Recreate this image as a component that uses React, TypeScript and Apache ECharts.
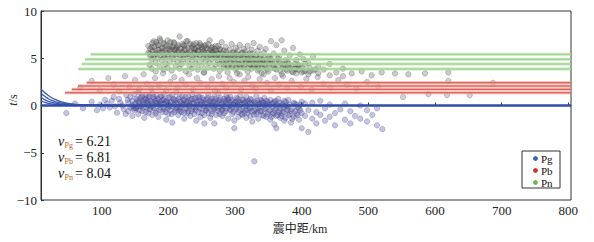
import React, { useEffect, useRef } from "react";
import * as echarts from "echarts";

const xMin = 9;
const xMax = 804;
const xTicks = [100, 200, 300, 400, 500, 600, 700, 800];

// Pg model curves (near-source branch converging to 0)
const pgCurveX = [9, 15, 20, 25, 30, 35, 40, 50, 60, 75, 100, 130];
const pgCurveA = [1.75, 1.35, 1.05, 0.82, 0.64, 0.5, 0.38, 0.22, 0.13, 0.06, 0.02, 0];
const pgCurveB = [1.3, 0.95, 0.72, 0.55, 0.42, 0.32, 0.25, 0.14, 0.08, 0.04, 0.01, 0];
const pgCurveC = [0.87, 0.6, 0.44, 0.33, 0.25, 0.19, 0.15, 0.09, 0.05, 0.02, 0.01, 0];
const pgCurveD = [0.5, 0.32, 0.23, 0.17, 0.13, 0.1, 0.08, 0.05, 0.03, 0.01, 0, 0];

// Pb / Pn model lines: start distance and residual level
const pbStarts = [45, 55, 64.5, 77.5];
const pbLevels = [1.35, 1.71, 2.06, 2.41];
const pnStarts = [65, 70, 75, 83.5];
const pnLevels = [3.86, 4.39, 4.89, 5.42];

// Observed residuals: [distance, t1, t2, ...]
const pgObs = [
  [47, -0.8], [60, 0.2], [72, -0.3], [85, 0.4], [93, -0.5], [98, 0.1], [105, 0.6], [112, -0.2],
  [118, 0.9], [123, -0.76], [128, 0.3], [133, -0.4], [137, 1.1], [102, -0.3], [108, 0.2], [115, 0.5],
  [120, -0.1], [126, 0.7], [131, 0.0], [136, -0.9], [139, 0.6], [145, 0.0], [148, -0.3],
  [140, 0.3, -0.6], [143, 0.9, -0.2], [146, -1.1, 0.5], [149, 0.1, 1.2, -0.5], [152, -0.3, 0.7],
  [155, 0.4, -0.9, 1.4], [158, -0.1, 0.8], [161, -0.6, 0.2, 1.0], [164, 0.6, -1.3], [167, -0.2, 0.4, 1.1],
  [170, 0.0, -0.8, 0.9], [173, 0.5, -0.4], [176, -1.0, 0.2, 1.3], [179, 0.7, -0.3], [182, -0.6, 0.3, 1.0],
  [185, 0.1, -1.2], [188, 0.9, -0.2, 0.4], [191, -0.7, 0.6], [194, 0.2, -0.4, 1.2], [197, -1.5, 0.5],
  [200, 0.0, 0.8, -0.9], [203, 0.3, -0.5], [206, 1.1, -0.1, -1.8], [209, 0.6, -0.7], [212, -0.3, 0.2, 1.4],
  [215, 0.7, -1.0], [218, -0.2, 0.4, -0.6], [221, 1.0, 0.1], [224, -0.8, 0.5, -1.4], [227, 0.3, -0.3],
  [230, 0.9, -0.6, 0.0], [233, -1.1, 0.6], [236, 0.2, -0.4, 1.2], [239, -0.9, 0.7], [242, 0.4, -0.2, -1.6],
  [245, 1.0, -0.7], [248, 0.1, 0.5, -1.2], [251, -0.4, 0.8], [254, 0.3, -1.0, -1.9], [257, 0.6, -0.5],
  [260, -0.1, 1.1, -0.8], [263, 0.4, -1.3], [266, -0.6, 0.7, 0.0], [269, 0.9, -0.3, -1.9], [272, -1.0, 0.2],
  [275, 0.5, -0.6, 1.3], [278, -0.2, 0.8], [281, 0.1, -1.1, -0.4], [284, 0.7, -0.8], [287, -0.3, 0.3, 1.0],
  [290, -1.4, 0.6], [293, 0.0, -0.5, 0.9], [296, -0.9, 0.4], [299, 0.2, -1.6, -2.4], [302, 0.8, -0.2],
  [305, -0.7, 0.5, -1.2], [308, 0.1, 1.1], [311, -0.4, -1.0, 0.6], [314, 0.3, -0.8], [317, -1.3, 0.9, 0.0],
  [320, 0.5, -0.5], [323, -0.2, -1.1, 0.7], [326, 0.2, -1.7], [329, -0.6, 0.4, -5.9], [332, 1.0, -0.9],
  [335, -0.3, 0.1, -1.4], [338, 0.6, -0.6], [341, -1.0, 0.3], [344, 0.0, -0.4, 0.8], [347, -1.2, 0.5],
  [350, -0.7, 0.2], [353, 0.6, -1.5], [356, -0.2, -0.9], [359, 0.4, -0.5, -2.0], [362, -1.1, 0.1, -2.4],
  [365, 0.7, -0.7], [368, -0.3, -1.3], [371, 0.2, -0.8], [374, -1.6, 0.5], [377, -0.4, 0.0],
  [380, -1.0, 0.6], [384, -0.6, -1.8], [388, 0.3, -1.2], [392, -0.9, 0.1], [396, -0.3, -1.5],
  [400, 0.4, -2.4, -0.8], [405, -1.1, 0.2], [410, -2.8, -0.5], [416, -1.4, 0.3], [422, -0.7, -1.9],
  [428, 0.5, -1.0], [435, -1.6, -0.3], [442, 0.1, -1.2], [450, -0.8, -2.1], [458, -0.4], [465, -1.5, 0.2],
  [473, -1.9, -0.6], [480, -1.1], [488, 0.0, -1.4], [498, -1.7, -0.5], [506, -1.0], [513, -2.1, -0.3], [521, -2.5],
];

const pgObsDense = [
  [151, 0.2, -0.3], [154, 0.6, -0.1], [157, 0.3, -0.5], [160, 0.9, 0.0], [163, -0.2, 0.4], [166, 0.7, -0.7],
  [169, 0.2, 0.5], [172, -0.4, 1.0], [175, 0.4, -0.1], [178, 0.0, 0.9], [181, -0.8, 0.5], [184, 0.3, 0.7],
  [187, -0.5, 0.1], [190, 0.2, 1.0], [193, -0.2, 0.6], [196, 0.4, -0.7], [199, 0.3, -0.3], [202, 0.9, -0.1],
  [205, 0.4, -0.9], [208, 0.1, 0.7], [211, -0.5, 0.5], [214, 0.2, -0.2], [217, 0.9, -0.4], [220, -0.7, 0.3],
  [223, 0.1, 0.6], [226, -0.3, 0.9], [229, 0.4, -0.8], [232, 0.0, 0.3], [235, -0.6, 0.7], [238, 0.2, -0.2],
  [241, 0.8, -0.5], [244, 0.1, 0.4], [247, -0.3, 0.9], [250, 0.3, -0.8], [253, 0.6, 0.0], [256, -0.5, 0.2],
  [259, 0.8, -0.3], [262, 0.1, 0.5], [265, -0.9, 0.3], [268, 0.4, -0.4], [271, 0.0, 0.7], [274, -0.3, 0.3],
  [277, 0.6, -0.9], [280, 0.2, -0.5], [283, -0.1, 0.4], [286, 0.5, -0.6], [289, 0.1, 0.8], [292, -0.4, 0.3],
  [295, 0.6, -0.2], [298, -0.7, 0.1], [301, 0.4, -0.4], [304, 0.0, 0.7], [307, -0.5, 0.3], [310, 0.2, -0.9],
  [313, -0.2, 0.6], [316, 0.4, -0.5], [319, -0.8, 0.2], [322, 0.3, -0.3], [325, 0.6, -0.6], [328, 0.0, -1.0],
  [331, -0.4, 0.3], [334, 0.5, -0.7], [337, -0.1, 0.2], [340, -0.6, 0.5], [343, 0.3, -1.1], [346, -0.3, 0.1],
  [349, 0.4, -0.9], [352, -0.5, 0.0], [355, 0.2, -1.2], [358, -0.8, 0.3], [361, -0.3, 0.5], [364, 0.0, -1.0],
  [367, -0.6, 0.3], [370, -1.1, 0.0], [373, -0.2, -0.7], [376, 0.4, -1.3], [379, -0.5, -0.1], [382, 0.1, -0.9],
  [386, -0.4, -1.4], [390, 0.2, -0.6], [394, -1.0, -0.2], [398, -0.5, 0.1],
];

const pbObs = [
  [68, 1.9], [85, 2.6], [97, 1.6], [110, 2.9], [118, 2.2], [126, 1.5], [135, 3.1], [142, 2.0], [150, 2.7],
  [156, 1.7], [163, 3.3], [168, 2.3], [174, 1.8], [180, 2.9], [186, 2.1], [192, 3.4], [197, 1.6], [203, 2.5],
  [209, 3.0], [214, 1.9], [220, 2.7], [226, 2.2], [231, 3.3], [237, 1.7], [243, 2.9], [248, 2.4], [254, 3.5],
  [259, 2.0], [265, 2.8], [270, 1.6], [276, 3.1], [281, 2.3], [287, 1.9], [292, 2.9], [298, 2.5], [303, 3.4],
  [309, 1.7], [314, 2.6], [320, 3.0], [326, 2.1], [331, 1.8], [337, 2.8], [343, 3.3], [348, 2.4], [354, 1.6],
  [360, 2.9], [366, 2.2], [372, 3.1], [378, 1.9], [385, 2.6], [392, 3.4], [399, 2.0], [407, 2.8], [415, 1.7],
  [424, 3.0], [433, 2.3], [443, 1.9], [455, 2.7], [468, 2.2], [482, 1.8], [498, 2.5], [515, 2.0], [552, 0.9],
  [590, 1.2], [618, 1.1], [620, 2.6], [652, 1.1], [687, 2.4],
];

const pnObs = [
  [172, 5.5, 4.3], [175, 6.2, 4.9, 3.9], [178, 5.1, 6.8], [181, 4.5, 5.8, 3.6], [184, 6.4, 5.0],
  [187, 4.1, 5.6, 7.1], [190, 4.8, 6.0], [193, 5.3, 3.8, 6.6], [196, 4.4, 5.9], [199, 6.9, 5.2, 4.0],
  [202, 4.7, 6.3], [205, 5.5, 3.7, 6.0], [208, 4.9, 6.7], [211, 4.2, 5.4, 5.9], [214, 6.2, 4.6],
  [217, 5.0, 3.9, 7.3], [220, 5.7, 4.4], [223, 6.4, 4.9, 5.3], [226, 3.6, 6.0], [229, 5.5, 4.7, 6.8],
  [232, 4.1, 5.2], [235, 6.1, 4.8, 3.9], [238, 5.6, 6.5], [241, 4.4, 5.0, 6.0], [244, 3.8, 5.8],
  [247, 6.6, 4.6, 5.3], [250, 4.2, 6.2], [253, 5.0, 3.5, 5.7], [256, 4.7, 6.4], [259, 5.9, 4.0, 5.2],
  [262, 6.9, 4.5], [265, 5.4, 4.9, 6.1], [268, 3.9, 5.7], [271, 6.3, 4.3, 5.0], [274, 4.8, 5.5],
  [277, 6.0, 3.7, 4.4], [280, 5.2, 6.7], [283, 4.6, 5.8, 4.0], [286, 5.4, 6.2], [289, 4.2, 5.0, 3.5],
  [292, 5.9, 4.7], [295, 6.5, 5.3, 4.1], [298, 4.9, 5.6], [301, 3.8, 6.1, 4.5], [304, 5.2, 5.8],
  [307, 4.3, 6.4, 3.3], [310, 5.5, 4.8], [313, 6.0, 4.0, 5.2], [316, 4.6, 5.7], [319, 3.6, 5.0, 6.3],
  [322, 4.4, 5.5], [325, 5.9, 4.9, 3.9], [328, 4.2, 6.6], [331, 5.3, 4.6], [334, 3.7, 5.8, 4.1],
  [337, 5.0, 6.2], [340, 4.4, 3.4], [343, 5.6, 4.8], [346, 4.0, 6.0], [350, 5.2, 3.6, 4.5], [354, 6.8, 4.9],
  [358, 4.2, 5.5], [362, 3.8, 6.4], [366, 4.7, 5.1], [370, 3.3, 6.9], [374, 5.8, 4.3], [378, 4.6, 3.7],
  [382, 5.3, 4.0], [387, 3.5, 6.1], [392, 4.8, 3.9], [397, 4.2, 5.4], [403, 3.6, 4.9], [410, 3.3, 4.5],
  [417, 5.2, 3.7], [425, 4.1, 3.4], [433, 3.8], [442, 4.4, 3.2], [452, 3.5], [462, 3.9, 3.1], [475, 3.4],
  [490, 3.6], [505, 3.2], [520, 3.5], [540, 3.4], [560, 3.3], [585, 3.4], [620, 3.5],
];

const pnObsDense = [
  [170, 5.6, 6.3], [173, 6.0, 5.2], [176, 6.6, 5.8], [179, 5.4, 6.2], [182, 6.7, 5.5], [185, 5.9, 6.4],
  [188, 5.3, 6.9], [191, 6.1, 5.7], [194, 6.5, 5.1], [197, 5.6, 6.3], [200, 6.0, 5.4], [203, 6.7, 5.8],
  [206, 5.2, 6.2], [209, 5.9, 6.6], [212, 5.5, 6.1], [215, 6.4, 5.7], [218, 5.3, 6.0], [221, 6.5, 5.6],
  [224, 5.9, 6.3], [227, 5.4, 6.8], [230, 6.1, 5.5], [233, 5.7, 6.5], [236, 6.3, 5.2], [239, 5.6, 6.0],
  [242, 6.6, 5.4], [245, 5.8, 6.2], [248, 5.3, 6.4], [251, 6.0, 5.7], [254, 5.5, 6.3], [257, 6.1, 5.1],
  [260, 5.6, 6.5], [263, 5.9, 5.3], [266, 6.2, 5.6], [269, 5.4, 6.0], [272, 5.8, 5.2], [275, 6.3, 5.5],
  [278, 5.1, 5.9], [281, 4.6, 5.5], [284, 5.2, 4.3], [287, 4.8, 5.7], [290, 4.1, 5.3], [293, 5.0, 4.5],
  [296, 5.6, 4.2], [299, 4.7, 5.2], [302, 4.0, 5.5], [305, 4.9, 4.4], [308, 5.3, 4.1], [311, 4.5, 5.6],
  [314, 4.2, 5.0], [317, 5.4, 4.6], [320, 4.0, 4.8], [323, 5.1, 4.3], [326, 4.6, 5.5], [329, 4.1, 4.9],
  [332, 5.2, 4.4], [335, 3.9, 4.7], [338, 4.5, 5.3], [341, 4.0, 4.8], [344, 5.0, 4.3], [348, 3.8, 4.6],
  [352, 4.4, 5.1], [356, 4.0, 4.7], [360, 4.6, 3.9], [364, 4.2, 5.0], [368, 3.7, 4.5], [372, 4.3, 4.0],
  [376, 4.8, 3.8], [380, 4.1, 4.5], [385, 3.6, 4.2], [390, 4.4, 3.9], [395, 3.8, 4.3], [400, 4.1, 3.5],
  [405, 3.7, 4.4], [412, 4.0, 3.6], [420, 3.8],
];

const velocityLabels = [
  { sub: "Pg", value: "6.21" },
  { sub: "Pb", value: "6.81" },
  { sub: "Pn", value: "8.04" },
];
const legendItems = [
  { name: "Pg", color: "#3a5fb5" },
  { name: "Pb", color: "#d2302c" },
  { name: "Pn", color: "#66bb4f" },
];

const SERIF = "'Liberation Serif', 'DejaVu Serif', serif";

function expand(rows: number[][]): number[][] {
  const out: number[][] = [];
  rows.forEach((r) => {
    for (let i = 1; i < r.length; i++) out.push([r[0], r[i]]);
  });
  return out;
}

function zip(xs: number[], ys: number[]): number[][] {
  return xs.map((x, i) => [x, ys[i]]);
}

export default function App() {
  const ref = useRef<HTMLDivElement>(null);

  useEffect(() => {
    if (!ref.current) return;
    const chart = echarts.init(ref.current, null, { renderer: "svg" });

    const series: any[] = [];
    const gray = { color: "rgba(100,95,118,0.38)", borderColor: "rgba(75,70,95,0.5)", borderWidth: 0.6 };
    const dark = { color: "rgba(70,75,70,0.36)", borderColor: "rgba(50,55,50,0.5)", borderWidth: 0.6 };
    const bluish = { color: "rgba(72,74,160,0.4)", borderColor: "rgba(60,60,125,0.5)", borderWidth: 0.6 };
    [
      [pbObs, gray],
      [pnObs, dark],
      [pnObsDense, dark],
      [pgObs, bluish],
      [pgObsDense, bluish],
    ].forEach(([rows, st]: any) => {
      series.push({
        type: "scatter",
        data: expand(rows),
        symbolSize: 5.5,
        itemStyle: st,
        silent: true,
        z: 2,
      });
    });

    [pgCurveA, pgCurveB, pgCurveC, pgCurveD].forEach((c) => {
      series.push({
        type: "line",
        data: zip(pgCurveX, c),
        symbol: "none",
        smooth: true,
        lineStyle: { color: "#3d58b2", width: 1.3 },
        silent: true,
        z: 3,
      });
    });
    series.push({
      type: "line",
      data: [[xMin, 0], [xMax, 0]],
      symbol: "none",
      lineStyle: { color: "#2f4ca8", width: 2.6 },
      silent: true,
      z: 3,
    });
    pbStarts.forEach((s, i) => {
      series.push({
        type: "line",
        data: [[s, pbLevels[i]], [xMax, pbLevels[i]]],
        symbol: "none",
        lineStyle: { color: "#f3a196", width: 3, opacity: 0.8 },
        silent: true,
        z: 3,
      });
    });
    pbStarts.forEach((s, i) => {
      series.push({
        type: "line",
        data: [[s, pbLevels[i]], [xMax, pbLevels[i]]],
        symbol: "none",
        lineStyle: { color: "#cf3a33", width: 0.9, opacity: 0.9 },
        silent: true,
        z: 3,
      });
    });
    pnStarts.forEach((s, i) => {
      series.push({
        type: "line",
        data: [[s, pnLevels[i]], [xMax, pnLevels[i]]],
        symbol: "none",
        lineStyle: { color: "#b3e0a4", width: 3, opacity: 0.75 },
        silent: true,
        z: 3,
      });
      series.push({
        type: "line",
        data: [[s, pnLevels[i]], [xMax, pnLevels[i]]],
        symbol: "none",
        lineStyle: { color: "#7fc46e", width: 0.8, opacity: 0.85 },
        silent: true,
        z: 3,
      });
    });

    const graphics: any[] = [];
    velocityLabels.forEach((v, i) => {
      const cy = 141 + i * 16;
      graphics.push({
        type: "text",
        x: 58,
        y: cy,
        style: { text: "v", font: `italic 14px ${SERIF}`, fill: "#111", verticalAlign: "middle" },
      });
      graphics.push({
        type: "text",
        x: 64.5,
        y: cy + 4,
        style: { text: v.sub, font: `8px ${SERIF}`, fill: "#b8682a", verticalAlign: "middle" },
      });
      graphics.push({
        type: "text",
        x: 75,
        y: cy,
        style: { text: "= " + v.value, font: `14px ${SERIF}`, fill: "#111", verticalAlign: "middle" },
      });
    });
    graphics.push({
      type: "rect",
      shape: { x: 522, y: 151, width: 38, height: 37 },
      style: { fill: "#fff", stroke: "#333", lineWidth: 1 },
      z: 100,
    });
    legendItems.forEach((it, i) => {
      const cy = 158.5 + i * 12;
      graphics.push({
        type: "circle",
        shape: { cx: 535.5, cy, r: 2.4 },
        style: { fill: it.color },
        z: 101,
      });
      graphics.push({
        type: "text",
        x: 541,
        y: cy,
        style: { text: it.name, font: `11px ${SERIF}`, fill: "#111", verticalAlign: "middle" },
        z: 101,
      });
    });
    graphics.push({
      type: "text",
      x: 300,
      y: 229,
      style: {
        text: "震中距/km",
        font: `12px 'Liberation Serif', 'Noto Sans CJK SC', serif`,
        fill: "#222",
        align: "center",
        verticalAlign: "middle",
      },
    });
    graphics.push({
      type: "text",
      x: 13,
      y: 100,
      rotation: Math.PI / 2,
      style: {
        text: "{t|t}{s|/s}",
        rich: {
          t: { font: `italic 12px ${SERIF}`, fill: "#222" },
          s: { font: `12px ${SERIF}`, fill: "#222" },
        },
        align: "center",
        verticalAlign: "middle",
      },
    });

    chart.setOption({
      animation: false,
      backgroundColor: "#fff",
      grid: {
        left: 41,
        right: 23,
        top: 11,
        bottom: 42,
        show: true,
        borderColor: "#333",
        borderWidth: 1,
        backgroundColor: "transparent",
      },
      xAxis: {
        type: "value",
        min: xMin,
        max: xMax,
        axisLine: { show: true, lineStyle: { color: "#333", width: 1 } },
        axisTick: { show: true, inside: true, length: 3, customValues: xTicks, lineStyle: { color: "#333" } },
        axisLabel: {
          customValues: xTicks,
          fontFamily: SERIF,
          fontSize: 13,
          color: "#222",
          margin: 4,
        },
        splitLine: { show: false },
      },
      yAxis: {
        type: "value",
        min: -10,
        max: 10,
        interval: 5,
        axisLine: { show: true, lineStyle: { color: "#333", width: 1 } },
        axisTick: { show: true, inside: true, length: 3, lineStyle: { color: "#333" } },
        axisLabel: {
          fontFamily: SERIF,
          fontSize: 13,
          color: "#222",
          margin: 4,
          formatter: (v: number) => String(v).replace("-", "\u2212"),
        },
        splitLine: { show: false },
      },
      series,
      graphic: graphics,
    });

    return () => chart.dispose();
  }, []);

  return <div ref={ref} style={{ width: 594, height: 242, margin: -8 }} />;
}
